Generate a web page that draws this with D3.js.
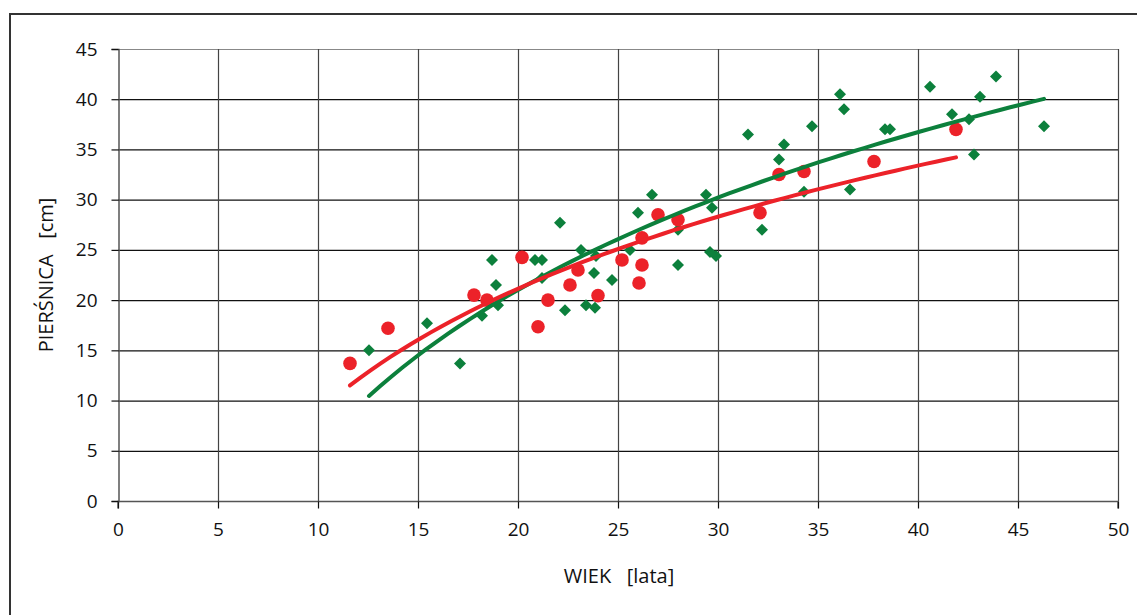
<!DOCTYPE html>
<html>
<head>
<meta charset="utf-8">
<script src="https://cdn.jsdelivr.net/npm/d3@7"></script>
<style>
  body { margin: 0; background: #fff; }
  svg { display: block; font-family: "Open Sans", "Noto Sans", sans-serif; }
</style>
</head>
<body>
<svg id="chart" width="1137" height="615"></svg>
<script>
// age [years] and diameter at breast height [cm]
const greenAge = [12.55, 15.45, 17.1, 18.2, 18.7, 18.9, 19.0, 20.85, 21.2, 21.2, 22.1, 22.35, 23.15, 23.4, 23.8, 23.85, 23.9, 24.7, 25.6, 26.0, 26.7, 28.0, 28.0, 29.4, 29.6, 29.7, 29.9, 31.5, 32.2, 33.05, 33.3, 34.3, 34.7, 36.1, 36.3, 36.6, 38.35, 38.6, 40.6, 41.7, 42.55, 42.8, 43.1, 43.9, 46.3];
const greenDbh = [15.0, 17.7, 13.7, 18.45, 24.0, 21.5, 19.5, 24.0, 24.0, 22.2, 27.7, 19.0, 25.0, 19.5, 22.7, 19.25, 24.4, 22.0, 25.0, 28.7, 30.5, 27.0, 23.5, 30.5, 24.8, 29.2, 24.4, 36.5, 27.0, 34.0, 35.5, 30.8, 37.3, 40.5, 39.0, 31.0, 37.0, 37.0, 41.25, 38.5, 38.0, 34.5, 40.25, 42.25, 37.3];
const redAge = [11.6, 13.5, 17.8, 18.45, 20.2, 21.0, 21.5, 22.6, 23.0, 24.0, 25.2, 26.05, 26.2, 26.2, 27.0, 28.0, 32.1, 33.05, 34.3, 37.8, 41.9];
const redDbh = [13.7, 17.2, 20.5, 20.0, 24.25, 17.35, 20.0, 21.5, 23.0, 20.45, 24.0, 21.7, 23.5, 26.2, 28.5, 28.0, 28.7, 32.5, 32.8, 33.8, 37.0];

const xTicks = [0, 5, 10, 15, 20, 25, 30, 35, 40, 45, 50];
const yTicks = [0, 5, 10, 15, 20, 25, 30, 35, 40, 45];

const GREEN = "#0c803c";
const RED = "#ec2229";

const svg = d3.select("#chart");
const x = d3.scaleLinear([0, 50], [118, 1118]);
const y = d3.scaleLinear([0, 45], [501, 49]);

// outer frame
svg.append("rect")
  .attr("x", 10).attr("y", 14)
  .attr("width", 1160).attr("height", 640)
  .attr("fill", "none").attr("stroke", "#333").attr("stroke-width", 2);

// grid
svg.append("g").selectAll("line").data(yTicks.filter((d) => d > 0)).join("line")
  .attr("x1", x(0)).attr("x2", x(50))
  .attr("y1", (d) => y(d) + 0.5).attr("y2", (d) => y(d) + 0.5)
  .attr("stroke", (d) => (d === 45 ? "#888" : "#111")).attr("stroke-width", 1.2);
svg.append("g").selectAll("line").data(xTicks.filter((d) => d > 0)).join("line")
  .attr("x1", (d) => x(d) + 0.5).attr("x2", (d) => x(d) + 0.5)
  .attr("y1", y(45)).attr("y2", y(0))
  .attr("stroke", "#444").attr("stroke-width", 1.2);

// axes
const xAxis = svg.append("g")
  .attr("transform", `translate(0,${y(0) + 0.5})`)
  .call(d3.axisBottom(x).tickValues(xTicks).tickSize(7).tickPadding(14).tickFormat(d3.format("d")));
const yAxis = svg.append("g")
  .attr("transform", `translate(${x(0) + 0.5},0)`)
  .call(d3.axisLeft(y).tickValues(yTicks).tickSize(7).tickPadding(14).tickFormat(d3.format("d")));
for (const g of [xAxis, yAxis]) {
  g.select(".domain").attr("stroke", "#555").attr("stroke-width", 1.5);
  g.selectAll(".tick line").attr("stroke", "#111").attr("stroke-width", 1.2);
  g.selectAll(".tick text").attr("font-size", 19).attr("fill", "#111").attr("font-family", "Open Sans, sans-serif");
}
xAxis.select(".domain").attr("d", `M${x(0)},7V0H${x(50)}V7`);

// axis titles
svg.append("text")
  .attr("x", 619).attr("y", 583)
  .attr("text-anchor", "middle").attr("font-size", 20).attr("fill", "#111")
  .attr("xml:space", "preserve")
  .text("WIEK   [lata]");
svg.append("text")
  .attr("transform", `translate(53,${(y(0) + y(45)) / 2}) rotate(-90)`)
  .attr("text-anchor", "middle").attr("font-size", 20).attr("fill", "#111")
  .attr("xml:space", "preserve")
  .text("PIERŚNICA   [cm]");

// logarithmic trend line, least squares on ln(age)
function logFit(xs, ys) {
  const lx = xs.map(Math.log);
  const mx = d3.mean(lx), my = d3.mean(ys);
  const a = d3.sum(lx, (v, i) => (v - mx) * (ys[i] - my)) / d3.sum(lx, (v) => (v - mx) ** 2);
  const b = my - a * mx;
  const [lo, hi] = d3.extent(xs);
  return d3.range(0, 61).map((i) => {
    const t = lo + ((hi - lo) * i) / 60;
    return [t, a * Math.log(t) + b];
  });
}
const line = d3.line().x((d) => x(d[0])).y((d) => y(d[1]));

const greenPts = greenAge.map((a, i) => [a, greenDbh[i]]);
const redPts = redAge.map((a, i) => [a, redDbh[i]]);

// green diamonds
svg.append("g").selectAll("path").data(greenPts).join("path")
  .attr("d", d3.symbol(d3.symbolSquare, 72))
  .attr("transform", (d) => `translate(${x(d[0])},${y(d[1])}) rotate(45)`)
  .attr("fill", GREEN);

// red dots
svg.append("g").selectAll("circle").data(redPts).join("circle")
  .attr("cx", (d) => x(d[0])).attr("cy", (d) => y(d[1]))
  .attr("r", 6.8).attr("fill", RED);

svg.append("path").datum(logFit(greenAge, greenDbh))
  .attr("d", line).attr("fill", "none")
  .attr("stroke", GREEN).attr("stroke-width", 4).attr("stroke-linecap", "round");
svg.append("path").datum(logFit(redAge, redDbh))
  .attr("d", line).attr("fill", "none")
  .attr("stroke", RED).attr("stroke-width", 4).attr("stroke-linecap", "round");
</script>
</body>
</html>
